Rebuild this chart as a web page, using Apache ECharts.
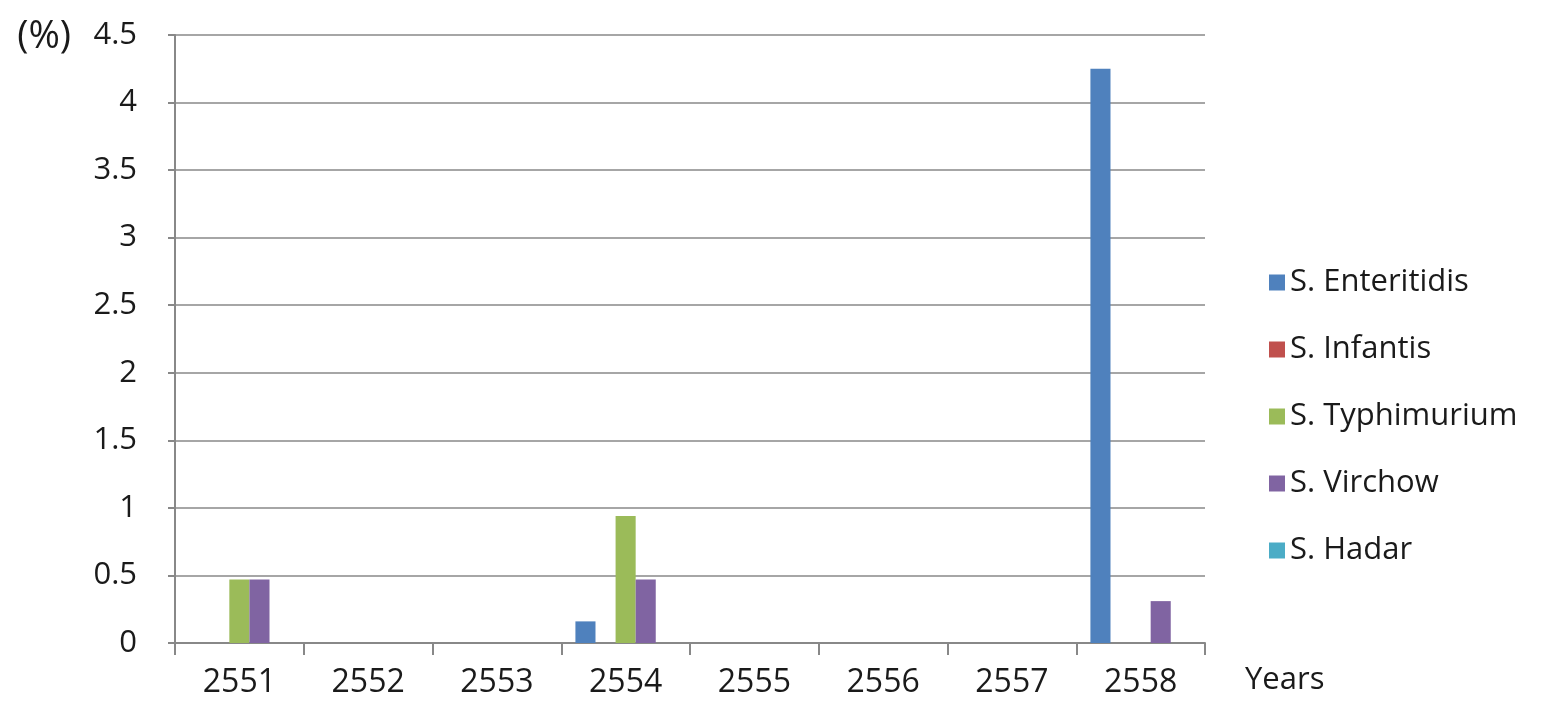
<!DOCTYPE html>
<html>
<head>
<meta charset="utf-8">
<script src="https://cdn.jsdelivr.net/npm/echarts@6/dist/echarts.min.js"></script>
<style>
html,body{margin:0;padding:0;background:#fff;}
#main{width:1547px;height:719px;}
</style>
</head>
<body>
<div id="main"></div>
<script>
// years on the x axis
var years = ['2551', '2552', '2553', '2554', '2555', '2556', '2557', '2558'];
var seriesNames = ['S. Enteritidis', 'S. Infantis', 'S. Typhimurium', 'S. Virchow', 'S. Hadar'];
var enteritidis = [0, 0, 0, 0.16, 0, 0, 0, 4.25];
var infantis = [0, 0, 0, 0, 0, 0, 0, 0];
var typhimurium = [0.47, 0, 0, 0.94, 0, 0, 0, 0];
var virchow = [0.47, 0, 0, 0.47, 0, 0, 0, 0.31];
var hadar = [0, 0, 0, 0, 0, 0, 0, 0];
var colors = ['#4F81BD', '#C0504D', '#9BBB59', '#8064A2', '#4BACC6'];

var fontFam = '"Open Sans", "Noto Sans", sans-serif';
var txtColor = '#1a1a1a';
var allData = [enteritidis, infantis, typhimurium, virchow, hadar];
var datas = [];
for (var i = 0; i < seriesNames.length; i++) {
    datas.push({
        name: seriesNames[i],
        type: 'bar',
        barGap: '0%',
        barCategoryGap: '22%',
        itemStyle: {color: colors[i]},
        data: allData[i]
    });
}

var myChart = echarts.init(document.getElementById('main'));
var option = {
    animation: false,
    color: colors,
    grid: {
        left: 175,
        right: 342,
        top: 35,
        bottom: 76
    },
    legend: {
        orient: 'vertical',
        left: 1264,
        top: 262,
        itemWidth: 16,
        itemHeight: 16,
        itemGap: 36,
        icon: 'rect',
        data: seriesNames,
        textStyle: {fontSize: 31, color: txtColor, fontFamily: fontFam}
    },
    xAxis: {
        type: 'category',
        data: years,
        name: 'Years',
        nameLocation: 'end',
        nameGap: 40,
        nameTextStyle: {fontSize: 31, color: txtColor, fontFamily: fontFam, verticalAlign: 'top', padding: [22, 0, 0, 0]},
        axisLine: {lineStyle: {color: '#888', width: 2}},
        axisTick: {show: true, length: 12, lineStyle: {color: '#888', width: 2}},
        axisLabel: {fontSize: 32, color: txtColor, margin: 24, fontFamily: fontFam}
    },
    yAxis: {
        type: 'value',
        min: 0,
        max: 4.5,
        interval: 0.5,
        name: '(%)',
        nameLocation: 'end',
        nameGap: -2,
        nameTextStyle: {fontSize: 38, color: txtColor, fontFamily: fontFam, align: 'right', verticalAlign: 'middle', padding: [0, 104, 0, 0]},
        axisLine: {show: true, lineStyle: {color: '#888', width: 2}},
        axisTick: {show: true, length: 7, lineStyle: {color: '#888', width: 2}},
        axisLabel: {fontSize: 31, color: txtColor, margin: 38, fontFamily: fontFam},
        splitLine: {lineStyle: {color: '#a6a6a6', width: 2}}
    },
    series: datas
};
myChart.setOption(option);
</script>
</body>
</html>
